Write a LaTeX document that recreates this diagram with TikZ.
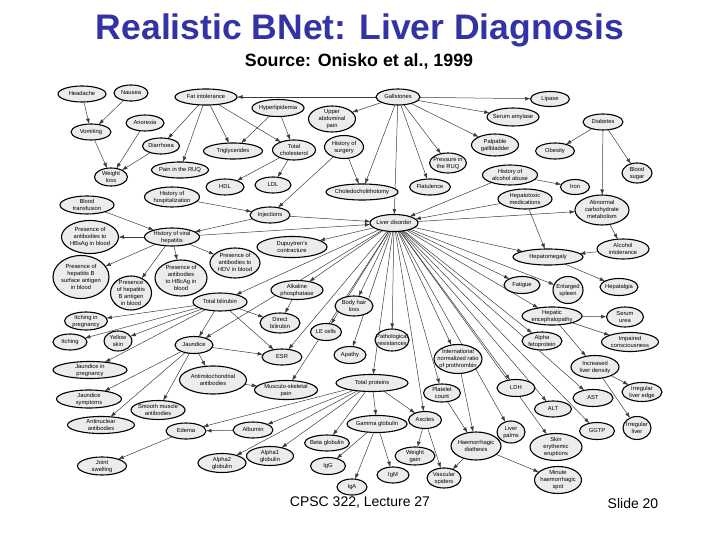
\documentclass[tikz,border=0pt]{standalone}
\usepackage{fontspec}
\setmainfont{Liberation Sans}
\usetikzlibrary{shapes.geometric,arrows.meta}
\definecolor{titleblue}{RGB}{51,51,165}
\definecolor{nodefill}{RGB}{236,236,236}
\definecolor{edgecol}{RGB}{60,60,60}
\pgfdeclarelayer{bg}
\pgfsetlayers{bg,main}
\newcommand{\zt}[1]{\makebox[0pt][c]{\raisebox{-0.6ex}[0pt][0pt]{\begin{tabular}{@{}c@{}}#1\end{tabular}}}}
\newcommand{\bnode}[6]{\node[bn,minimum width=#4pt,minimum height=#5pt] (#1) at (#2,#3) {\zt{#6}};}
\begin{document}
\begin{tikzpicture}[x=1pt,y=-1pt,
  bn/.style={ellipse,draw=black,line width=1.1pt,fill=nodefill,inner sep=0pt,outer sep=0pt,font=\fontsize{5.8}{7}\selectfont},
  edge/.style={draw=edgecol,line width=0.5pt,-{Latex[length=5.5pt,width=3.8pt]}},
  txt/.style={inner sep=0pt,anchor=center}]
\useasboundingbox (0,0) rectangle (720,540);
\node[txt,text=titleblue,font=\fontsize{35.5}{38}\selectfont\bfseries] (title) at (360,30) {Realistic BNet: Liver Diagnosis};
\node[txt,font=\fontsize{17.8}{20}\selectfont\bfseries] (source) at (359,61) {Source: Onisko et al., 1999};
\node[txt,font=\fontsize{14}{16}\selectfont] (footer) at (360,503) {CPSC 322, Lecture 27};
\node[txt,font=\fontsize{14}{16}\selectfont] (slide) at (633,503) {Slide 20};
% nodes
\bnode{headache}{82}{94}{48}{16}{Headache}
\bnode{nausea}{131}{93}{34}{16}{Nausea}
\bnode{fatint}{206}{97}{62}{16}{Fat intolerance}
\bnode{gallstones}{398}{97}{44}{16}{Gallstones}
\bnode{lipase}{550}{99}{39}{15}{Lipase}
\bnode{hyperlip}{278}{108}{52}{17}{Hyperlipidemia}
\bnode{upperabd}{332}{119}{47}{26}{Upper\\abdominal\\pain}
\bnode{serumamyl}{513}{117}{52}{18}{Serum amylase}
\bnode{diabetes}{603}{122}{40}{16}{Diabetes}
\bnode{anorexia}{145}{123}{38}{16}{Anorexia}
\bnode{vomiting}{91}{132}{40}{16}{Vomiting}
\bnode{diarrhoea}{161}{146}{37}{16}{Diarrhoea}
\bnode{trigly}{233}{151}{59}{16}{Triglycerides}
\bnode{totchol}{294}{150}{43}{20}{Total\\cholesterol}
\bnode{histsurg}{344}{147}{39}{23}{History of\\surgery}
\bnode{palpgb}{495}{145}{47}{22}{Palpable\\gallbladder}
\bnode{obesity}{555}{151}{39}{16}{Obesity}
\bnode{painruq}{180}{170}{57}{16}{Pain in the RUQ}
\bnode{pressruq}{448}{163}{37}{20}{Pressure in\\the RUQ}
\bnode{histalc}{510}{175}{55}{20}{History of\\alcohol abuse}
\bnode{bloodsugar}{637}{173}{30}{20}{Blood\\sugar}
\bnode{weightloss}{111}{177}{33}{18}{Weight\\loss}
\bnode{hdl}{225}{187}{38}{16}{HDL}
\bnode{ldl}{273}{185}{36}{16}{LDL}
\bnode{choledo}{362}{192}{72}{16}{Choledocholithotomy}
\bnode{flatulence}{430}{187}{41}{16}{Flatulence}
\bnode{iron}{575}{187}{29}{15}{Iron}
\bnode{histhosp}{172}{197}{55}{20}{History of\\hospitalization}
\bnode{hepatotox}{525}{199}{54}{20}{Hepatotoxic\\medications}
\bnode{bloodtrans}{87}{205}{54}{18}{Blood\\transfusion}
\bnode{abncarb}{602}{210}{54}{30}{Abnormal\\carbohydrate\\metabolism}
\bnode{injections}{270}{215}{40}{16}{Injections}
\bnode{liverdis}{394}{223}{48}{17}{Liver disorder}
\bnode{antiHBs}{90}{237}{57}{33}{Presence of\\antibodies to\\HBsAg in blood}
\bnode{histviral}{172}{237}{55}{18}{History of viral\\hepatitis}
\bnode{dupuytren}{292}{247}{70}{21}{Dupuytren's\\contracture}
\bnode{alcint}{623}{249}{52}{20}{Alcohol\\intolerance}
\bnode{antiHDV}{235}{263}{50}{30}{Presence of\\antibodies to\\HDV in blood}
\bnode{hepatomeg}{548}{257}{70}{16}{Hepatomegaly}
\bnode{hepBsurf}{81}{277}{56}{43}{Presence of\\hepatitis B\\surface antigen\\in blood}
\bnode{antiHBc}{181}{278}{52}{36}{Presence of\\antibodies\\to HBcAg in\\blood}
\bnode{hepBant}{131}{293}{41}{34}{Presence\\of hepatitis\\B antigen\\in blood}
\bnode{fatigue}{522}{285}{36}{17}{Fatigue}
\bnode{enlspleen}{568}{290}{30}{27}{Enlarged\\spleen}
\bnode{hepatalgia}{619}{287}{38}{17}{Hepatalgia}
\bnode{alkphos}{297}{290}{52}{19}{Alkaline\\phosphatase}
\bnode{totbili}{220}{302}{54}{18}{Total bilirubin}
\bnode{bodyhair}{354}{306}{38}{20}{Body hair\\loss}
\bnode{itchpreg}{86}{321}{43}{18}{Itching in\\pregnancy}
\bnode{directbili}{280}{323}{40}{20}{Direct\\bilirubin}
\bnode{hepenceph}{552}{316}{60}{18}{Hepatic\\encephalopathy}
\bnode{serumurea}{625}{317}{37}{20}{Serum\\urea}
\bnode{lecells}{326}{332}{31}{17}{LE cells}
\bnode{pathres}{392}{340}{34}{22}{Pathological\\resistances}
\bnode{alphafeto}{542}{341}{40}{18}{Alpha\\fetoprotein}
\bnode{impcons}{630}{342}{57}{19}{Impaired\\consciousness}
\bnode{itching}{70}{342}{34}{16}{Itching}
\bnode{yellowskin}{118}{341}{28}{20}{Yellow\\skin}
\bnode{jaundice}{194}{345}{38}{17}{Jaundice}
\bnode{esr}{282}{357}{40}{16}{ESR}
\bnode{apathy}{350}{355}{32}{17}{Apathy}
\bnode{inr}{458}{359}{48}{29}{International\\normalized ratio\\of prothrombin}
\bnode{incliver}{595}{367}{48}{23}{Increased\\liver density}
\bnode{jaunpreg}{90}{370}{74}{17}{Jaundice in\\pregnancy}
\bnode{antimito}{213}{380}{67}{28}{Antimitochondrial\\antibodies}
\bnode{musculo}{286}{390}{63}{19}{Musculo-skeletal\\pain}
\bnode{totprot}{372}{383}{72}{17}{Total proteins}
\bnode{platelet}{442}{393}{37}{18}{Platelet\\count}
\bnode{ldh}{516}{388}{38}{17}{LDH}
\bnode{irregedge}{642}{392}{40}{19}{Irregular\\liver edge}
\bnode{ast}{593}{398}{40}{17}{AST}
\bnode{jaunsymp}{89}{399}{65}{18}{Jaundice\\symptoms}
\bnode{smoothmus}{158}{410}{54}{19}{Smooth muscle\\antibodies}
\bnode{alt}{553}{409}{37}{16}{ALT}
\bnode{antinuc}{101}{425}{67}{17}{Antinuclear\\antibodies}
\bnode{edema}{186}{431}{40}{16}{Edema}
\bnode{albumin}{253}{430}{40}{16}{Albumin}
\bnode{gammaglob}{377}{424}{60}{17}{Gamma globulin}
\bnode{ascites}{425}{420}{33}{17}{Ascites}
\bnode{liverpalms}{511}{432}{28}{22}{Liver\\palms}
\bnode{skinery}{556}{447}{52}{27}{Skin\\erythemic\\eruptions}
\bnode{ggtp}{597}{431}{35}{17}{GGTP}
\bnode{irregliver}{637}{428}{28}{23}{Irregular\\liver}
\bnode{betaglob}{327}{443}{45}{16}{Beta globulin}
\bnode{haemdia}{476}{446}{50}{28}{Haemorrhagic\\diathesis}
\bnode{jointswell}{102}{466}{49}{18}{Joint\\swelling}
\bnode{alpha2}{222}{463}{48}{19}{Alpha2\\globulin}
\bnode{alpha1}{270}{456}{47}{19}{Alpha1\\globulin}
\bnode{igg}{328}{466}{35}{17}{IgG}
\bnode{weightgain}{415}{456}{40}{18}{Weight\\gain}
\bnode{igm}{393}{475}{32}{16}{IgM}
\bnode{vascular}{444}{478}{34}{20}{Vascular\\spiders}
\bnode{minute}{558}{480}{47}{27}{Minute\\haemorrhagic\\spot}
\bnode{iga}{352}{487}{30}{16}{IgA}
% edges
\begin{pgfonlayer}{bg}
\foreach \a/\b in {gallstones/fatint,gallstones/upperabd,gallstones/choledo,gallstones/liverdis,gallstones/flatulence,gallstones/pressruq,gallstones/palpgb,gallstones/serumamyl,gallstones/lipase,
 headache/vomiting,nausea/vomiting,vomiting/weightloss,anorexia/weightloss,diarrhoea/weightloss,
 fatint/diarrhoea,fatint/painruq,fatint/trigly,fatint/totchol,hyperlip/trigly,hyperlip/totchol,totchol/hdl,totchol/ldl,
 histsurg/choledo,histsurg/injections,histhosp/injections,injections/histviral,injections/liverdis,bloodtrans/histviral,
 histviral/antiHBs,histviral/hepBsurf,histviral/hepBant,histviral/antiHBc,histviral/antiHDV,histviral/liverdis,
 diabetes/obesity,diabetes/bloodsugar,diabetes/abncarb,histalc/iron,histalc/liverdis,hepatotox/liverdis,hepatotox/hepatomeg,
 liverdis/abncarb,abncarb/alcint,alcint/hepatomeg,hepatomeg/hepatalgia,
 liverdis/hepatomeg,liverdis/fatigue,liverdis/enlspleen,liverdis/hepenceph,liverdis/alphafeto,liverdis/dupuytren,liverdis/totbili,liverdis/alkphos,liverdis/jaundice,liverdis/esr,liverdis/lecells,liverdis/bodyhair,liverdis/apathy,liverdis/musculo,liverdis/pathres,liverdis/totprot,liverdis/ascites,liverdis/platelet,liverdis/inr,liverdis/liverpalms,liverdis/ldh,liverdis/alt,liverdis/ast,liverdis/ggtp,liverdis/skinery,
 hepenceph/serumurea,hepenceph/impcons,hepenceph/incliver,incliver/irregedge,incliver/irregliver,
 totbili/itchpreg,totbili/itching,totbili/yellowskin,totbili/jaundice,totbili/jaunpreg,totbili/directbili,totbili/esr,alkphos/directbili,
 jaundice/jaunsymp,jaundice/antinuc,jaundice/smoothmus,jaundice/antimito,jaundice/esr,antimito/musculo,
 totprot/edema,totprot/albumin,totprot/alpha2,totprot/alpha1,totprot/betaglob,totprot/gammaglob,totprot/ascites,albumin/edema,edema/jointswell,
 gammaglob/igg,gammaglob/igm,gammaglob/iga,ascites/weightgain,ascites/vascular,platelet/haemdia,inr/haemdia,haemdia/vascular,haemdia/minute}
 \draw[edge] (\a) -- (\b);
\end{pgfonlayer}
\end{tikzpicture}
\end{document}
